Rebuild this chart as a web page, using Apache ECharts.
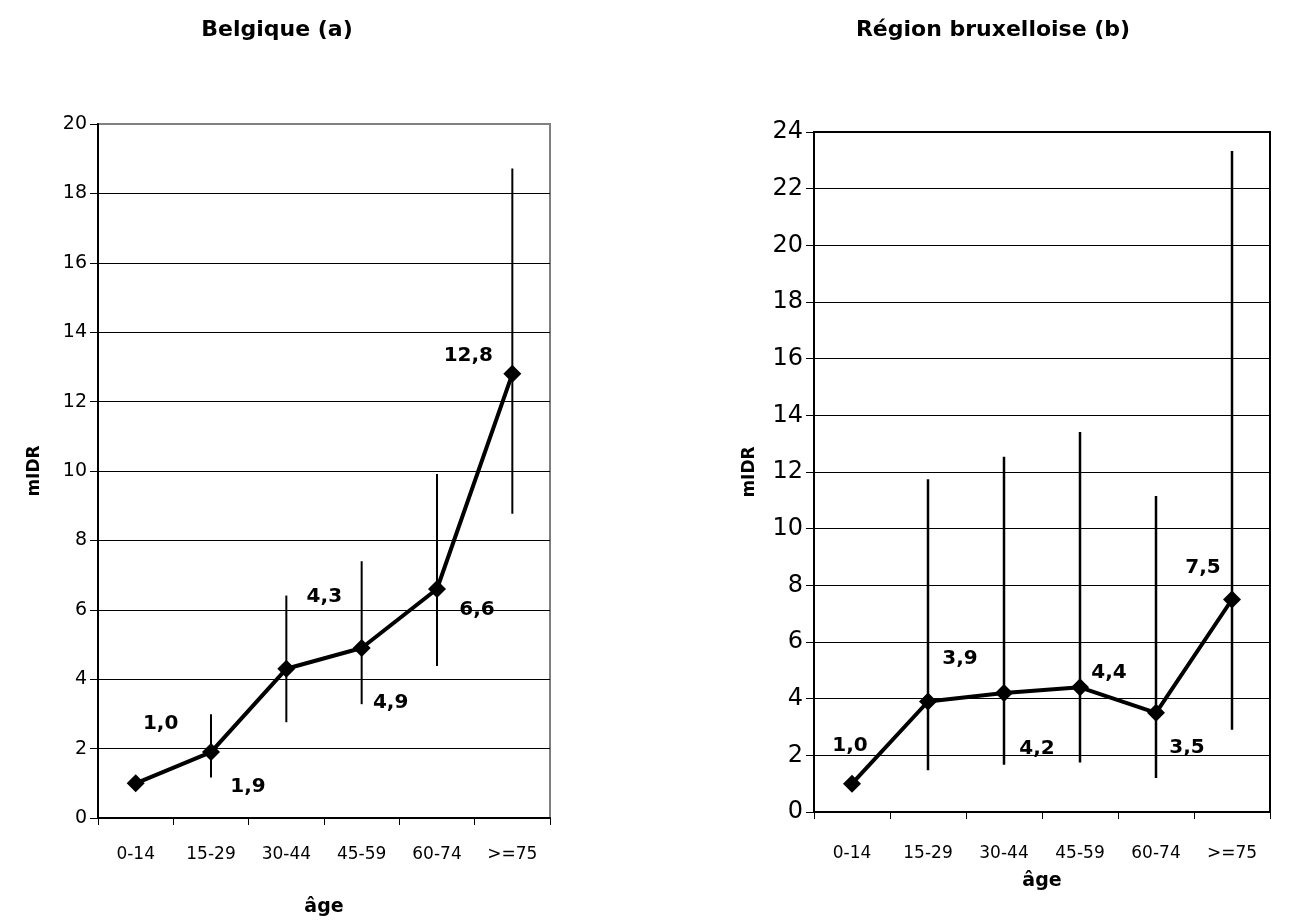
<!DOCTYPE html>
<html>
<head>
<meta charset="utf-8">
<title>mIDR par âge</title>
<script src="https://cdn.jsdelivr.net/npm/echarts@6/dist/echarts.min.js"></script>
<style>
  html, body { margin: 0; padding: 0; background: #fff; }
  #chart { width: 1293px; height: 921px; }
</style>
</head>
<body>
<div id="chart"></div>
<script>
  // données
  var ages = ['0-14', '15-29', '30-44', '45-59', '60-74', '>=75'];

  var belgique = [1.0, 1.9, 4.3, 4.9, 6.6, 12.8];
  var belgiqueLow = [null, 1.17, 2.76, 3.28, 4.38, 8.77];
  var belgiqueHigh = [null, 2.99, 6.41, 7.40, 9.91, 18.72];

  var bruxelles = [1.0, 3.9, 4.2, 4.4, 3.5, 7.5];
  var bruxellesLow = [null, 1.47, 1.67, 1.75, 1.20, 2.90];
  var bruxellesHigh = [null, 11.74, 12.54, 13.41, 11.15, 23.33];

  // décalage des étiquettes (en px) par point
  var offA = [[25, -60], [37, 35], [38, -72], [29, 55], [40, 21], [-44, -18]];
  var offB = [[-2, -38], [32, -43], [33, 56], [29, -15], [31, 35], [-29, -32]];

  var font = 'DejaVu Sans';

  function errData(low, high) {
    var out = [];
    for (var i = 0; i < low.length; i++) {
      if (low[i] != null) out.push([i, low[i], high[i]]);
    }
    return out;
  }

  function labelled(values, offs) {
    return values.map(function (v, i) {
      return {
        value: v,
        label: { offset: offs[i] }
      };
    });
  }

  function errSeries(idx, low, high, width) {
    return {
      type: 'custom',
      xAxisIndex: idx,
      yAxisIndex: idx,
      z: 1,
      silent: true,
      data: errData(low, high),
      renderItem: function (params, api) {
        var a = api.coord([api.value(0), api.value(1)]);
        var b = api.coord([api.value(0), api.value(2)]);
        return {
          type: 'line',
          shape: { x1: a[0], y1: a[1], x2: b[0], y2: b[1] },
          style: { stroke: '#000', lineWidth: width }
        };
      }
    };
  }

  function xAx(idx, gap, margin) {
    return {
      type: 'category',
      gridIndex: idx,
      data: ages,
      boundaryGap: true,
      name: 'âge',
      nameLocation: 'middle',
      nameGap: gap,
      nameTextStyle: { fontFamily: font, fontWeight: 'bold', fontSize: 19, color: '#000' },
      axisLine: { lineStyle: { color: '#000', width: 2 } },
      axisTick: { show: true, length: 7, lineStyle: { color: '#000', width: 1 } },
      axisLabel: { margin: margin, fontFamily: font, fontSize: 17, color: '#000' },
      splitLine: { show: false }
    };
  }

  function yAx(idx, max, fs, gap, showMax) {
    return {
      type: 'value',
      gridIndex: idx,
      min: 0,
      max: max,
      interval: 2,
      name: 'mIDR',
      nameLocation: 'middle',
      nameGap: gap,
      nameTextStyle: { fontFamily: font, fontWeight: 'bold', fontSize: 17, color: '#000' },
      axisLine: { show: true, lineStyle: { color: '#000', width: 2 } },
      axisTick: { show: true, length: 8, lineStyle: { color: '#000', width: 1 } },
      axisLabel: { margin: 11, fontFamily: font, fontSize: fs, color: '#000' },
      splitLine: { show: true, showMaxLine: showMax, lineStyle: { color: '#000', width: 1 } }
    };
  }

  function lineSeries(idx, values, offs) {
    return {
      type: 'line',
      xAxisIndex: idx,
      yAxisIndex: idx,
      z: 3,
      data: labelled(values, offs),
      symbol: 'diamond',
      symbolSize: 18,
      lineStyle: { color: '#000', width: 4 },
      itemStyle: { color: '#000' },
      label: {
        show: true,
        position: 'inside',
        fontFamily: font,
        fontWeight: 'bold',
        fontSize: 20,
        color: '#000',
        formatter: function (p) {
          return p.value.toFixed(1).replace('.', ',');
        }
      }
    };
  }

  var myChart = echarts.init(document.getElementById('chart'));
  myChart.setOption({
    animation: false,
    backgroundColor: '#fff',
    title: [{
      text: 'Belgique (a)',
      left: 272,
      top: 14,
      textAlign: 'center',
      textStyle: { fontFamily: font, fontWeight: 'bold', fontSize: 22, color: '#000' }
    }, {
      text: 'Région bruxelloise (b)',
      left: 988,
      top: 14,
      textAlign: 'center',
      textStyle: { fontFamily: font, fontWeight: 'bold', fontSize: 22, color: '#000' }
    }],
    grid: [{
      left: 98, top: 124, width: 452, height: 694,
      outerBoundsMode: 'none',
      show: true, borderColor: '#808080', borderWidth: 2
    }, {
      left: 814, top: 132, width: 456, height: 680,
      outerBoundsMode: 'none',
      show: true, borderColor: '#000', borderWidth: 2
    }],
    xAxis: [xAx(0, 80, 28), xAx(1, 60, 33)],
    yAxis: [yAx(0, 20, 19, 55, false), yAx(1, 24, 24, 56, true)],
    series: [
      errSeries(0, belgiqueLow, belgiqueHigh, 2),
      lineSeries(0, belgique, offA),
      errSeries(1, bruxellesLow, bruxellesHigh, 2.5),
      lineSeries(1, bruxelles, offB)
    ]
  });
</script>
</body>
</html>
